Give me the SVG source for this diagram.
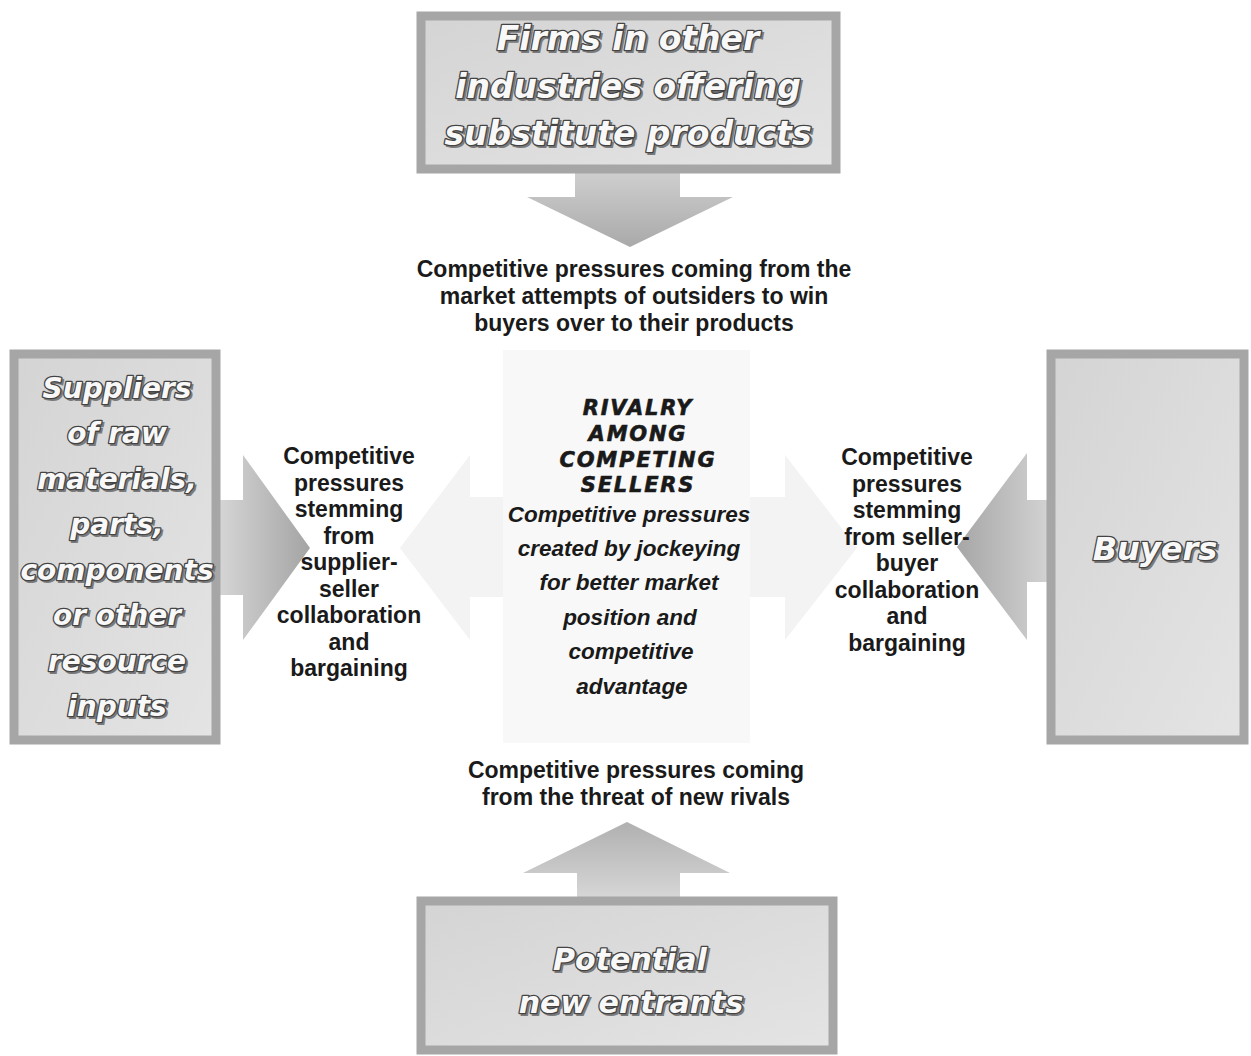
<svg xmlns="http://www.w3.org/2000/svg" width="1251" height="1056" viewBox="0 0 1251 1056">
<style>
.lbl{font-family:"Liberation Sans",Arial,sans-serif;font-weight:bold;font-size:23px;fill:#1a1a1a;text-anchor:middle}
.cen{font-family:"Liberation Sans",Arial,sans-serif;font-weight:bold;font-style:italic;font-size:22.5px;fill:#1a1a1a;text-anchor:middle}
.caps{font-family:"DejaVu Sans",sans-serif;font-weight:bold;font-style:italic;font-size:21px;letter-spacing:1.8px;fill:#1a1a1a;stroke:#1a1a1a;stroke-width:0.6px;text-anchor:middle}
.emb{font-family:"DejaVu Sans",sans-serif;font-weight:bold;font-style:italic;fill:#f8f8f8;stroke:#444444;stroke-width:2.6px;paint-order:stroke;text-anchor:middle;stroke-linejoin:round}
.sh{font-family:"DejaVu Sans",sans-serif;font-weight:bold;font-style:italic;fill:#7a7a7a;stroke:#7a7a7a;stroke-width:2px;text-anchor:middle}
.frame{fill:url(#boxg);stroke:#a6a6a6;stroke-width:9}
</style>
<defs>
<linearGradient id="boxg" x1="0" y1="0" x2="1" y2="1">
<stop offset="0" stop-color="#d4d4d4"/><stop offset="1" stop-color="#e4e4e4"/>
</linearGradient>
<linearGradient id="aDown" x1="0" y1="0" x2="0" y2="1">
<stop offset="0" stop-color="#cfcfcf"/><stop offset="1" stop-color="#a9a9a9"/>
</linearGradient>
<linearGradient id="aUp" x1="0" y1="1" x2="0" y2="0">
<stop offset="0" stop-color="#d6d6d6"/><stop offset="1" stop-color="#b0b0b0"/>
</linearGradient>
<linearGradient id="aRight" x1="0" y1="0" x2="1" y2="0">
<stop offset="0" stop-color="#d6d6d6"/><stop offset="1" stop-color="#a4a4a4"/>
</linearGradient>
<linearGradient id="aLeft" x1="1" y1="0" x2="0" y2="0">
<stop offset="0" stop-color="#d2d2d2"/><stop offset="1" stop-color="#a6a6a6"/>
</linearGradient>
</defs>
<rect width="1251" height="1056" fill="#ffffff"/>

<g id="center">
<polygon points="400,548 470,455 470,497 505,497 505,597 470,597 470,640" fill="#f3f3f3"/>
<polygon points="857,548 785,455 785,497 750,497 750,597 785,597 785,640" fill="#f3f3f3"/>
<rect x="503" y="350" width="247" height="393" fill="#f8f8f8"/>
<text class="caps" x="638" y="415">RIVALRY</text>
<text class="caps" x="638" y="441">AMONG</text>
<text class="caps" x="638" y="467">COMPETING</text>
<text class="caps" x="638" y="492">SELLERS</text>
<text class="cen" x="629" y="522">Competitive pressures</text>
<text class="cen" x="629" y="556">created by jockeying</text>
<text class="cen" x="629" y="590">for better market</text>
<text class="cen" x="630" y="625">position and</text>
<text class="cen" x="631" y="659">competitive</text>
<text class="cen" x="632" y="694">advantage</text>
</g>

<g id="connectors">
<polygon points="575,172 680,172 680,197 733,197 630,247 527,197 575,197" fill="url(#aDown)"/>
<polygon points="218,500 243,500 243,455 310,548 243,640 243,595 218,595" fill="url(#aRight)"/>
<polygon points="1048,500 1027,500 1027,453 957,547 1027,640 1027,582 1048,582" fill="url(#aLeft)"/>
<polygon points="577,898 680,898 680,873 730,873 627,822 523,873 577,873" fill="url(#aUp)"/>
</g>

<g id="substitutes">
<rect class="frame" x="421" y="16" width="415" height="153"/>
<g font-size="33px">
<text class="sh" x="630" y="52">Firms in other</text>
<text class="sh" x="630" y="100">industries offering</text>
<text class="sh" x="630" y="147">substitute products</text>
<text class="emb" x="628" y="50">Firms in other</text>
<text class="emb" x="628" y="98">industries offering</text>
<text class="emb" x="628" y="145">substitute products</text>
</g>
</g>
<text class="lbl" x="634" y="277">Competitive pressures coming from the</text>
<text class="lbl" x="634" y="304">market attempts of outsiders to win</text>
<text class="lbl" x="634" y="331">buyers over to their products</text>

<g id="suppliers">
<rect class="frame" x="14" y="354" width="202" height="386"/>
<g font-size="28px">
<text class="sh" x="119" y="400">Suppliers</text>
<text class="sh" x="119" y="445">of raw</text>
<text class="sh" x="119" y="491">materials,</text>
<text class="sh" x="119" y="536">parts,</text>
<text class="sh" x="119" y="582">components</text>
<text class="sh" x="119" y="627">or other</text>
<text class="sh" x="119" y="673">resource</text>
<text class="sh" x="119" y="718">inputs</text>
<text class="emb" x="117" y="398">Suppliers</text>
<text class="emb" x="117" y="443">of raw</text>
<text class="emb" x="117" y="489">materials,</text>
<text class="emb" x="117" y="534">parts,</text>
<text class="emb" x="117" y="580">components</text>
<text class="emb" x="117" y="625">or other</text>
<text class="emb" x="117" y="671">resource</text>
<text class="emb" x="117" y="716">inputs</text>
</g>
</g>
<g id="label-left">
<text class="lbl" x="349" y="464">Competitive</text>
<text class="lbl" x="349" y="490.5">pressures</text>
<text class="lbl" x="349" y="517">stemming</text>
<text class="lbl" x="349" y="543.5">from</text>
<text class="lbl" x="349" y="570">supplier-</text>
<text class="lbl" x="349" y="596.5">seller</text>
<text class="lbl" x="349" y="623">collaboration</text>
<text class="lbl" x="349" y="649.5">and</text>
<text class="lbl" x="349" y="676">bargaining</text>
</g>

<g id="buyers">
<rect class="frame" x="1051" y="354" width="193" height="386"/>
<g font-size="32px">
<text class="sh" x="1157" y="562">Buyers</text>
<text class="emb" x="1155" y="560">Buyers</text>
</g>
</g>
<g id="label-right">
<text class="lbl" x="907" y="465">Competitive</text>
<text class="lbl" x="907" y="491.5">pressures</text>
<text class="lbl" x="907" y="518">stemming</text>
<text class="lbl" x="907" y="544.5">from seller-</text>
<text class="lbl" x="907" y="571">buyer</text>
<text class="lbl" x="907" y="597.5">collaboration</text>
<text class="lbl" x="907" y="624">and</text>
<text class="lbl" x="907" y="650.5">bargaining</text>
</g>

<text class="lbl" x="636" y="778">Competitive pressures coming</text>
<text class="lbl" x="636" y="805">from the threat of new rivals</text>

<g id="entrants">
<rect class="frame" x="421" y="901" width="412" height="149"/>
<g font-size="30px">
<text class="sh" x="632" y="972">Potential</text>
<text class="sh" x="633" y="1015">new entrants</text>
<text class="emb" x="630" y="970">Potential</text>
<text class="emb" x="631" y="1013">new entrants</text>
</g>
</g>
</svg>
